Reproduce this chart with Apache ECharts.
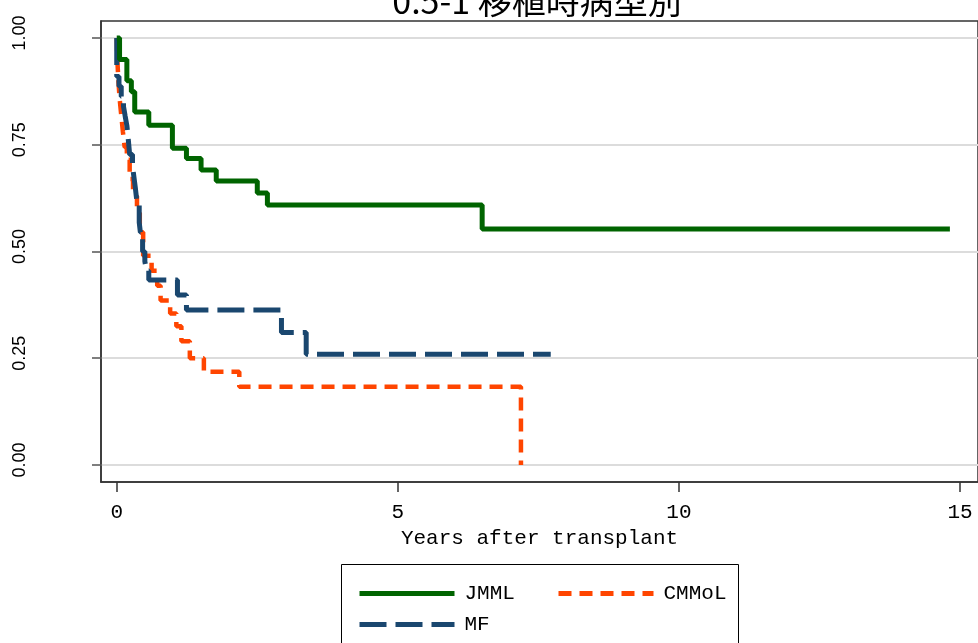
<!DOCTYPE html>
<html>
<head>
<meta charset="utf-8">
<script src="https://cdn.jsdelivr.net/npm/echarts@6/dist/echarts.min.js"></script>
<style>
html,body{margin:0;padding:0;background:#fff;}
#chart{width:978px;height:643px;}
</style>
</head>
<body>
<div id="chart"></div>
<script>
const titleText = '0.5-1 移植時病型別';
const xAxisTitle = 'Years after transplant';
const seriesNames = ['JMML', 'MF', 'CMMoL'];
const xTicks = [0, 5, 10, 15];
const yTicks = [0, 0.25, 0.5, 0.75, 1.0];

const jmmlTime = [0, 0.05, 0.18, 0.26, 0.32, 0.57, 0.99, 1.24, 1.50, 1.77, 2.50, 2.68, 6.50, 14.82];
const jmmlSurv = [1.0, 0.95, 0.90, 0.874, 0.827, 0.796, 0.742, 0.718, 0.691, 0.665, 0.637, 0.609, 0.553, 0.553];

const mfTime = [0, 0, 0.04, 0.08, 0.12, 0.15, 0.18, 0.20, 0.23, 0.28, 0.30, 0.33, 0.36, 0.40, 0.42, 0.46, 0.50, 0.53, 0.57, 1.08, 1.24, 2.93, 3.37, 7.72];
const mfSurv = [1.0, 0.91, 0.887, 0.863, 0.84, 0.817, 0.795, 0.77, 0.727, 0.70, 0.68, 0.65, 0.615, 0.568, 0.545, 0.50, 0.477, 0.455, 0.433, 0.398, 0.363, 0.31, 0.259, 0.259];

const cmTime = [0, 0.01, 0.03, 0.05, 0.08, 0.11, 0.14, 0.18, 0.23, 0.29, 0.36, 0.41, 0.47, 0.62, 0.72, 0.78, 0.95, 1.06, 1.15, 1.30, 1.55, 2.18, 7.19, 7.19];
const cmSurv = [1.0, 0.95, 0.90, 0.86, 0.82, 0.78, 0.745, 0.715, 0.67, 0.63, 0.59, 0.545, 0.49, 0.455, 0.42, 0.385, 0.355, 0.325, 0.29, 0.25, 0.218, 0.183, 0.183, 0];

const colors = ['#006400', '#1a476f', '#ff4500'];

function pairs(t, s) { return t.map((v, i) => [v, s[i]]); }

const chart = echarts.init(document.getElementById('chart'), null, {renderer: 'canvas'});
const labelFont = 'Liberation Mono';

const legendCommon = {
  orient: 'vertical', top: 578, itemWidth: 95, itemHeight: 14, itemGap: 10,
  itemStyle: {opacity: 0},
  lineStyle: {width: 5},
  textStyle: {fontFamily: labelFont, fontSize: 21, color: '#000', padding: [0, 0, 0, 5]}
};

chart.setOption({
  animation: false,
  backgroundColor: '#ffffff',
  title: {
    text: titleText,
    left: 532, top: -21, textAlign: 'center',
    textStyle: {fontFamily: 'Noto Sans CJK JP', fontSize: 34, fontWeight: 'normal', color: '#000'}
  },
  grid: {left: 101, right: -2, top: 21, bottom: 161, show: true, borderColor: '#333', borderWidth: 1.5, containLabel: false},
  xAxis: {
    type: 'value', min: -0.28, max: 15.32,
    name: xAxisTitle, nameLocation: 'middle', nameGap: 45,
    nameTextStyle: {fontFamily: labelFont, fontSize: 21, color: '#000'},
    axisLine: {show: true, onZero: false, lineStyle: {color: '#333', width: 1.5}},
    axisTick: {show: true, length: 10, customValues: xTicks, lineStyle: {color: '#333', width: 1.5}},
    axisLabel: {customValues: xTicks, margin: 20, fontFamily: labelFont, fontSize: 21, color: '#000'},
    splitLine: {show: false}
  },
  yAxis: {
    type: 'value', min: -0.04, max: 1.04,
    axisLine: {show: true, onZero: false, lineStyle: {color: '#333', width: 1.5}},
    axisTick: {show: true, length: 9, customValues: yTicks, lineStyle: {color: '#555', width: 1.5}},
    axisLabel: {customValues: yTicks, rotate: 90, margin: 72, fontFamily: 'Liberation Sans', fontSize: 18, color: '#000',
      padding: [0, 0, 0, 10], formatter: v => v.toFixed(2)},
    splitLine: {show: true, lineStyle: {color: '#dcdcdc', width: 2}}
  },
  legend: [
    Object.assign({left: 352, data: ['JMML', 'MF']}, legendCommon),
    Object.assign({left: 551, data: ['CMMoL']}, legendCommon)
  ],
  graphic: [{type: 'rect', left: 341, top: 564, z: -1, shape: {width: 397, height: 100},
    style: {fill: '#fff', stroke: '#000', lineWidth: 1}}],
  series: [
    {name: 'JMML', type: 'line', step: 'end', symbol: 'none', data: pairs(jmmlTime, jmmlSurv),
     lineStyle: {color: colors[0], width: 5, type: 'solid'}, itemStyle: {color: colors[0]}, z: 3},
    {name: 'MF', type: 'line', step: 'end', symbol: 'none', data: pairs(mfTime, mfSurv),
     lineStyle: {color: colors[1], width: 5, type: [27, 9]}, itemStyle: {color: colors[1]}, z: 2},
    {name: 'CMMoL', type: 'line', step: 'end', symbol: 'none', data: pairs(cmTime, cmSurv),
     lineStyle: {color: colors[2], width: 4.5, type: [13, 8]}, itemStyle: {color: colors[2]}, z: 1}
  ]
});
</script>
</body>
</html>
